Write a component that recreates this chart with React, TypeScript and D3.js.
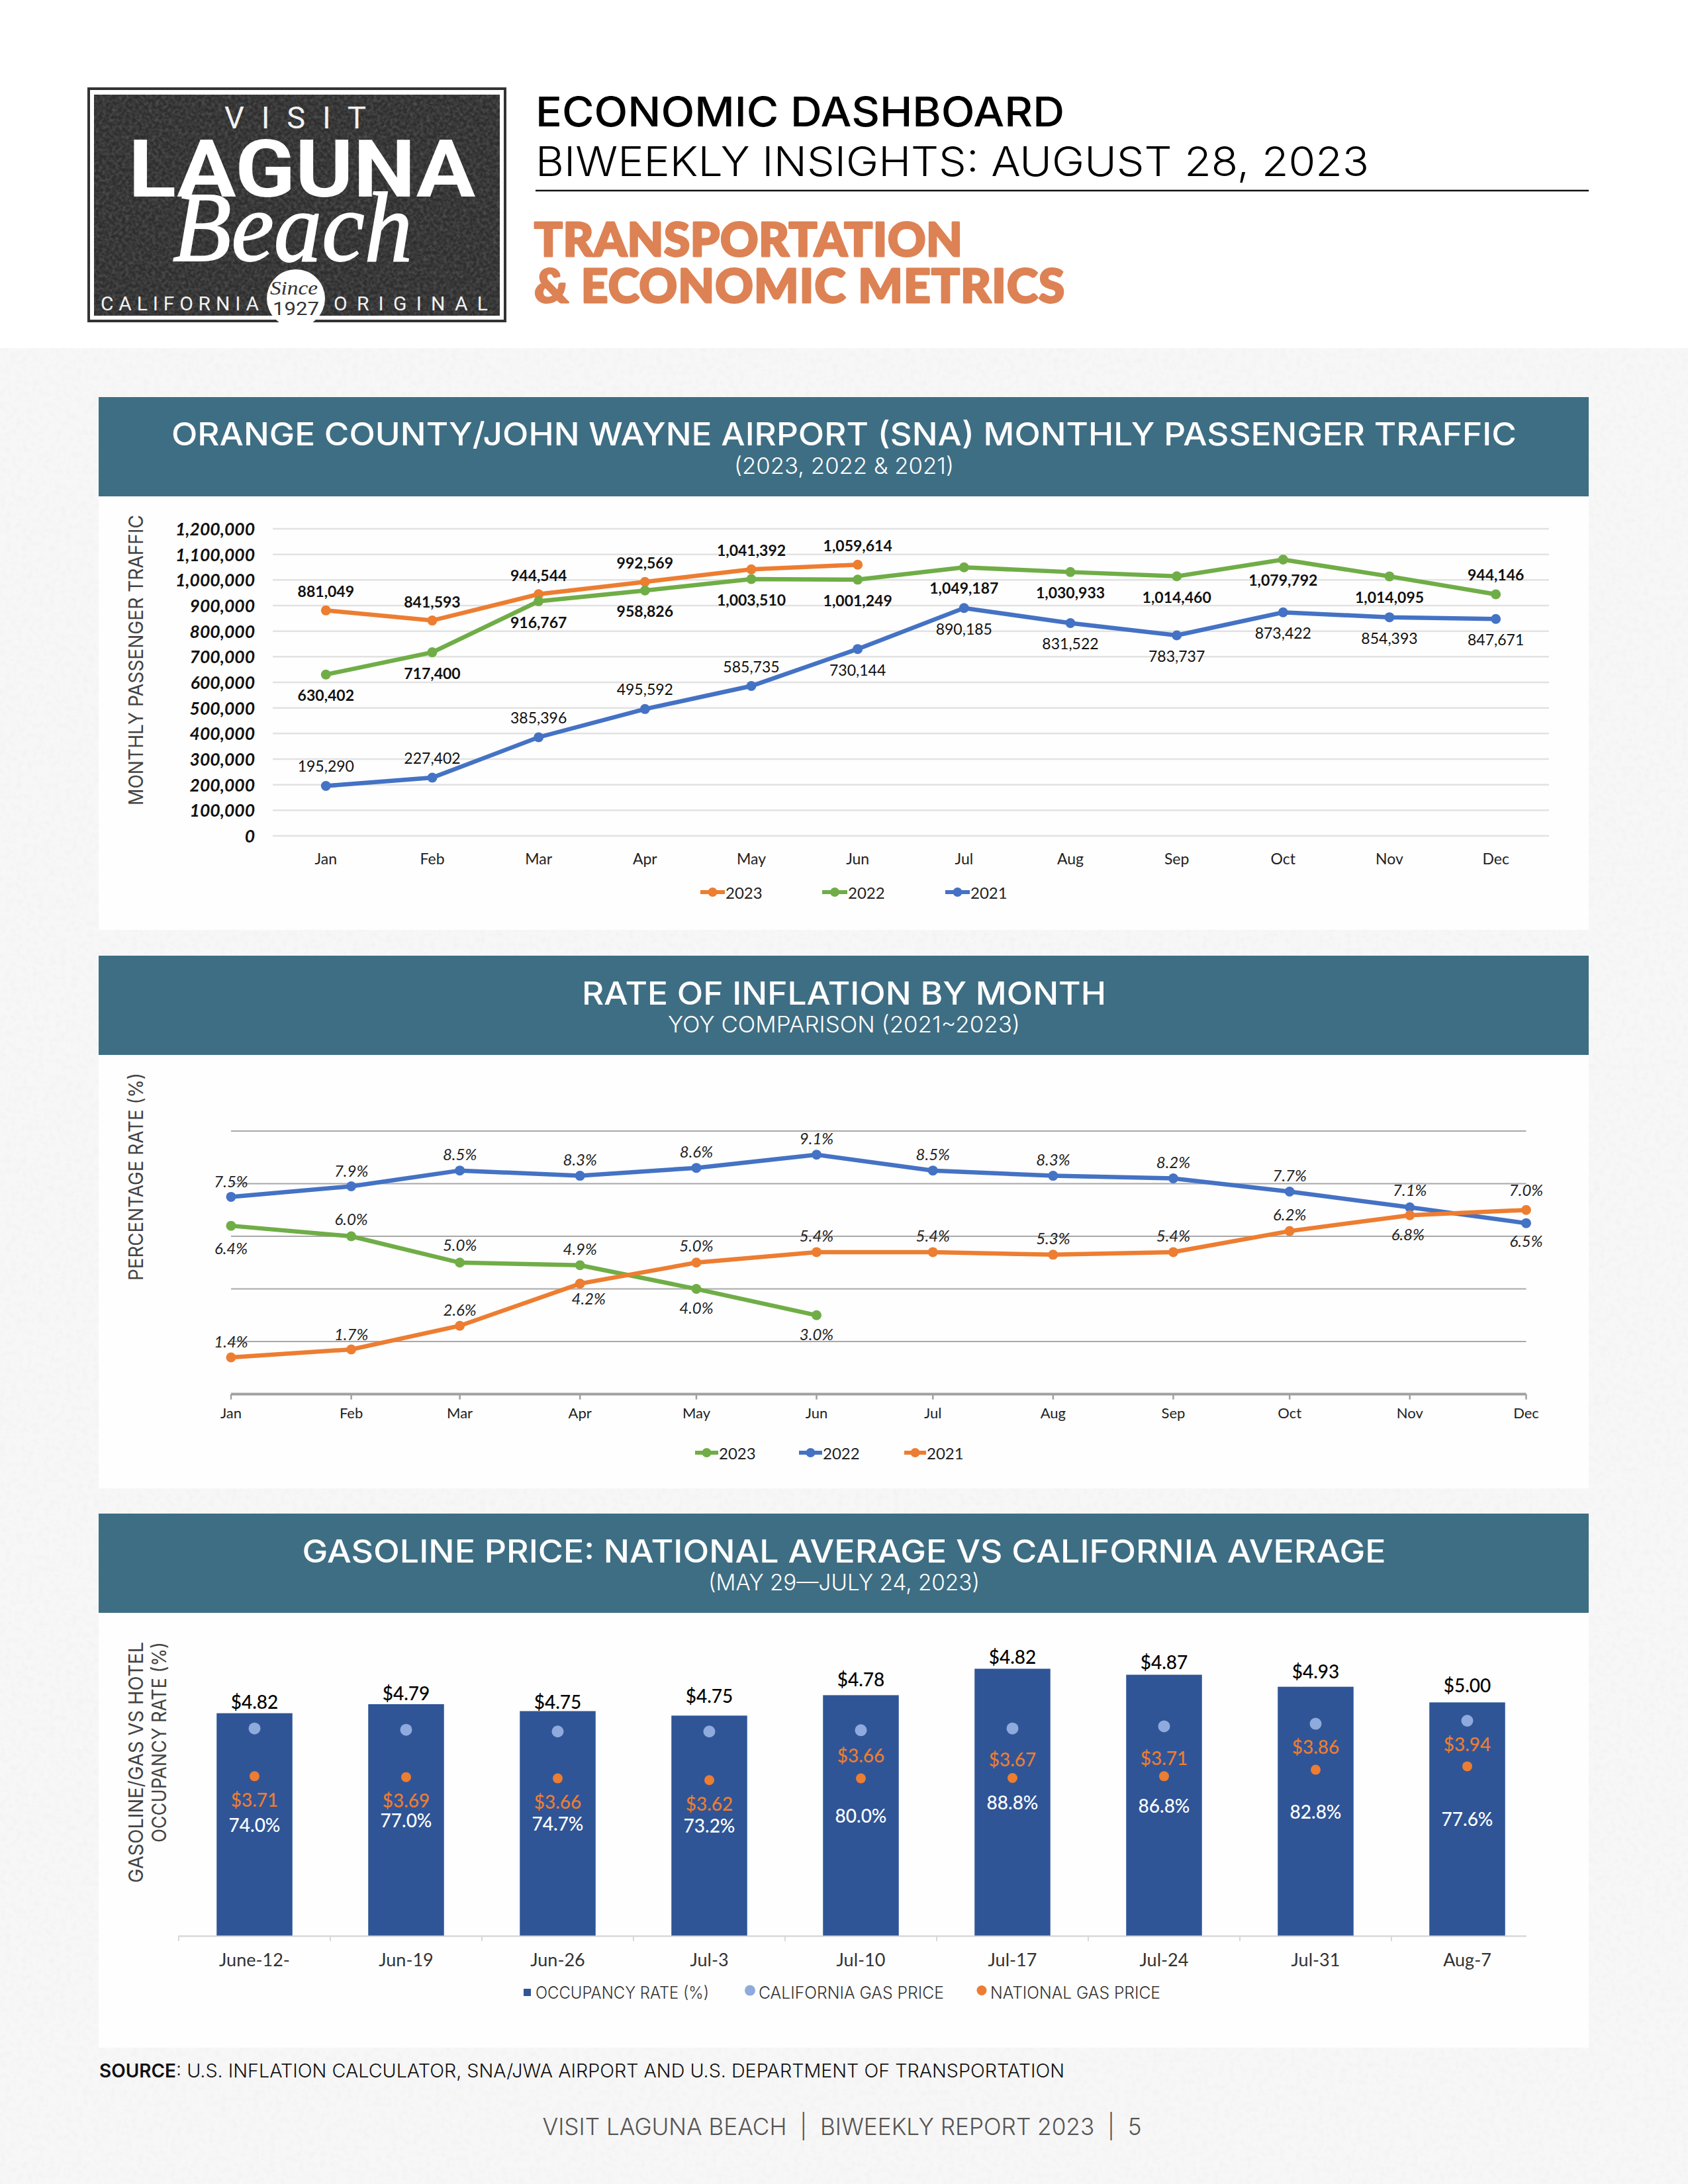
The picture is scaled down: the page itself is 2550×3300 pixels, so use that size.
import React from "react";
import * as d3 from "d3";

const months = ["Jan","Feb","Mar","Apr","May","Jun","Jul","Aug","Sep","Oct","Nov","Dec"];
const pax2023 = [881049,841593,944544,992569,1041392,1059614];
const pax2022 = [630402,717400,916767,958826,1003510,1001249,1049187,1030933,1014460,1079792,1014095,944146];
const pax2021 = [195290,227402,385396,495592,585735,730144,890185,831522,783737,873422,854393,847671];
const paxTicks = [0,100000,200000,300000,400000,500000,600000,700000,800000,900000,1000000,1100000,1200000];

const infl2023 = [6.4,6.0,5.0,4.9,4.0,3.0];
const infl2022 = [7.5,7.9,8.5,8.3,8.6,9.1,8.5,8.3,8.2,7.7,7.1,6.5];
const infl2021 = [1.4,1.7,2.6,4.2,5.0,5.4,5.4,5.3,5.4,6.2,6.8,7.0];
const inflGrid = [2,4,6,8,10];
// label offsets (layout only)
const inflOff2023 = [33,-27,-27,-25,28,28];
const inflOff2022 = [-24,-24,-25,-25,-25,-25,-25,-25,-25,-25,-27,26];
const inflOff2021 = [-24,-24,-25,22,-26,-25,-25,-25,-25,-26,28,-31];

const weeks = ["June-12-","Jun-19","Jun-26","Jul-3","Jul-10","Jul-17","Jul-24","Jul-31","Aug-7"];
const occupancy = [74.0,77.0,74.7,73.2,80.0,88.8,86.8,82.8,77.6];
const caGas = [4.82,4.79,4.75,4.75,4.78,4.82,4.87,4.93,5.00];
const usGas = [3.71,3.69,3.66,3.62,3.66,3.67,3.71,3.86,3.94];
const caOff = [-18,-17,-14,-30,-24,-18,-20,-24,-26];
const usOff = [35,35,35,35,-35,-28,-28,-35,-34];

const ORANGE="#ED7D31", GREEN="#70AD47", BLUE="#4472C4";
const HEAD="#3E6E84", UI="Inter, Lato, sans-serif", CH="Lato, sans-serif";

function T({x,y,w,sp,size,fill="#000",anchor="middle",weight=400,italic=false,font=UI,children,rot,pre}: any){
  return <text x={rot?0:x} y={rot?0:y} transform={rot?`translate(${x},${y}) rotate(${rot})`:undefined}
    fontFamily={font} fontSize={size} fontWeight={weight} fontStyle={italic?"italic":"normal"} fill={fill}
    textAnchor={anchor} dominantBaseline="central" style={pre?{whiteSpace:"pre"}:undefined}
    {...(w?{textLength:w,lengthAdjust:sp?"spacing":"spacingAndGlyphs"}:{})}>{children}</text>;
}

function Banner({top,bottom,title,tw,ty,sub,sw,sy}: any){
  return <g>
    <rect x={149} y={top+150} width={2251} height={bottom-top-150} fill="#fefefe"/>
    <rect x={149} y={top} width={2251} height={150} fill={HEAD}/>
    <T x={1275} y={ty} w={tw} size={48} fill="#fff" weight={500}>{title}</T>
    <T x={1275} y={sy} w={sw} size={34} fill="#fff" weight={300}>{sub}</T>
  </g>;
}

function Legend({items,y}: any){
  return <g>{items.map((d: any)=><g key={d.label}>
    <line x1={d.x1} x2={d.x2} y1={y} y2={y} stroke={d.color} strokeWidth={6}/>
    <circle cx={(d.x1+d.x2)/2} cy={y} r={7} fill={d.color}/>
    <T x={d.x2+1} y={y} size={24} anchor="start" fill="#222" font={CH}>{d.label}</T>
  </g>)}</g>;
}

function Traffic(){
  const x = d3.scaleBand<string>().domain(months).range([412,2340]);
  const y = d3.scaleLinear().domain([0,1200000]).range([1263,799]);
  const cx = (i:number)=>x(months[i])!+x.bandwidth()/2;
  const line = d3.line<number>().x((_,i)=>cx(i)).y(d=>y(d));
  const fmt = d3.format(",");
  const series = [
    {vals:pax2023,color:ORANGE,bold:true,side:()=>-29},
    {vals:pax2022,color:GREEN,bold:true,side:(i:number)=>i===11?-30:31},
    {vals:pax2021,color:BLUE,bold:false,side:(i:number)=>i<5?-30:31},
  ];
  return <g>
    {paxTicks.map(t=><g key={t}>
      <line x1={412} x2={2340} y1={y(t)} y2={y(t)} stroke="#e2e2e2" strokeWidth={2.5}/>
      <T x={385} y={y(t)} size={26.5} anchor="end" weight={700} italic font={CH} fill="#111">{fmt(t)}</T>
    </g>)}
    {months.map((m,i)=><T key={m} x={cx(i)} y={1297} size={23} fill="#222" font={CH}>{m}</T>)}
    {series.map((s,k)=><g key={k}>
      <path d={line(s.vals)!} fill="none" stroke={s.color} strokeWidth={6.5}/>
      {s.vals.map((v,i)=><circle key={i} cx={cx(i)} cy={y(v)} r={7.5} fill={s.color}/>)}
    </g>)}
    {series.map((s,k)=><g key={k}>
      {s.vals.map((v,i)=><T key={i} x={cx(i)} y={y(v)+s.side(i)} size={23} weight={s.bold?700:400} font={CH} fill="#111">{fmt(v)}</T>)}
    </g>)}
    <Legend y={1348} items={[{label:"2023",color:ORANGE,x1:1058,x2:1095},{label:"2022",color:GREEN,x1:1242,x2:1280},{label:"2021",color:BLUE,x1:1428,x2:1465}]}/>
    <T x={205} y={997.5} w={439} size={30} rot={-90} fill="#444">MONTHLY PASSENGER TRAFFIC</T>
  </g>;
}

function Inflation(){
  const dates = months.map((_,i)=>new Date(Date.UTC(2023,i,1)));
  const x = d3.scaleUtc().domain([dates[0],dates[11]]).range([349,2305.5]);
  const y = d3.scaleLinear().domain([0,10]).range([2106.6,1709]);
  const line = d3.line<number>().x((_,i)=>x(dates[i])).y(d=>y(d));
  const series = [
    {vals:infl2022,color:BLUE,off:inflOff2022},
    {vals:infl2023,color:GREEN,off:inflOff2023},
    {vals:infl2021,color:ORANGE,off:inflOff2021},
  ];
  const dx = (k:number,i:number)=>(k===2&&i===3?13:k===2&&i===10?-3:0);
  return <g>
    {inflGrid.map(t=><line key={t} x1={349} x2={2305.5} y1={y(t)} y2={y(t)} stroke="#a8a8a8" strokeWidth={2}/>)}
    <line x1={349} x2={2305.5} y1={y(0)} y2={y(0)} stroke="#a0a0a0" strokeWidth={4}/>
    {dates.map((d,i)=><g key={i}>
      <line x1={x(d)} x2={x(d)} y1={y(0)} y2={y(0)+8} stroke="#a0a0a0" strokeWidth={2.5}/>
      <T x={x(d)} y={2134} size={22} fill="#222" font={CH}>{months[i]}</T>
    </g>)}
    {series.map((s,k)=><g key={k}>
      <path d={line(s.vals)!} fill="none" stroke={s.color} strokeWidth={6.5}/>
      {s.vals.map((v,i)=><circle key={i} cx={x(dates[i])} cy={y(v)} r={7.5} fill={s.color}/>)}
    </g>)}
    {series.map((s,k)=><g key={k}>
      {s.vals.map((v,i)=><T key={i} x={x(dates[i])+dx(k,i)} y={y(v)+s.off[i]} size={24} weight={400} italic font={CH} fill="#222">{v.toFixed(1)+"%"}</T>)}
    </g>)}
    <Legend y={2195} items={[{label:"2023",color:GREEN,x1:1050,x2:1085},{label:"2022",color:BLUE,x1:1207,x2:1242},{label:"2021",color:ORANGE,x1:1366,x2:1399}]}/>
    <T x={205} y={1778} w={314} size={30} rot={-90} fill="#444">PERCENTAGE RATE (%)</T>
  </g>;
}

function Gas(){
  const x = d3.scaleBand<string>().domain(weeks).range([270,2331]).paddingInner(0.5).paddingOuter(0.25);
  const y = d3.scaleLinear().domain([0,100]).range([2924.6,2470.6]);
  const g = d3.scaleLinear().domain([3,5]).range([2730,2600]);
  const cx = (i:number)=>x(weeks[i])!+x.bandwidth()/2;
  const step = x.step();
  return <g>
    <line x1={270} x2={2306} y1={2925.5} y2={2925.5} stroke="#d8d8d8" strokeWidth={2.5}/>
    {d3.range(0,9).map(i=><line key={i} x1={270+i*step} x2={270+i*step} y1={2925} y2={2933} stroke="#d8d8d8" strokeWidth={2}/>)}
    {weeks.map((w,i)=><g key={w}>
      <rect x={x(w)} y={y(occupancy[i])} width={x.bandwidth()} height={y(0)-y(occupancy[i])} fill="#2F5597"/>
      <circle cx={cx(i)} cy={g(caGas[i])} r={9} fill="#8FAADC"/>
      <circle cx={cx(i)} cy={g(usGas[i])} r={7.5} fill={ORANGE}/>
      <T x={cx(i)} y={y(occupancy[i])+caOff[i]} size={28} font={CH} weight={500} fill="#000">{"$"+caGas[i].toFixed(2)}</T>
      <T x={cx(i)} y={g(usGas[i])+usOff[i]} size={28} font={CH} weight={500} fill={ORANGE}>{"$"+usGas[i].toFixed(2)}</T>
      <T x={cx(i)} y={y(occupancy[i]/2)} size={28} font={CH} weight={500} fill="#fff">{occupancy[i].toFixed(1)+"%"}</T>
      <T x={cx(i)} y={2960} size={27} font={CH} fill="#333">{w}</T>
    </g>)}
    <rect x={791} y={3005} width={11} height={11} fill="#2F5597"/>
    <T x={809} y={3011} w={262} size={25} anchor="start" fill="#333" weight={300}>OCCUPANCY RATE (%)</T>
    <circle cx={1133} cy={3007.5} r={8} fill="#8FAADC"/>
    <T x={1146} y={3011} w={280} size={25} anchor="start" fill="#333" weight={300}>CALIFORNIA GAS PRICE</T>
    <circle cx={1483} cy={3007.5} r={7.5} fill={ORANGE}/>
    <T x={1496} y={3011} w={257} size={25} anchor="start" fill="#333" weight={300}>NATIONAL GAS PRICE</T>
    <T x={205} y={2481} w={364} size={30} rot={-90} anchor="end" fill="#444">GASOLINE/GAS VS HOTEL</T>
    <T x={240} y={2481} w={303} size={30} rot={-90} anchor="end" fill="#444">OCCUPANCY RATE (%)</T>
  </g>;
}

function Logo(){
  const R = "Roboto, sans-serif";
  return <g>
    <rect x={132} y={132} width={633} height={355} fill="#333"/>
    <rect x={136} y={136} width={625} height={347} fill="#fff"/>
    <rect x={142} y={143} width={613} height={334} fill="#2e2e2e"/>
    <rect x={142} y={143} width={613} height={334} filter="url(#grain)"/>
    <T x={446} y={177} w={214} sp size={47} fill="#f2f2f2" font={R}>VISIT</T>
    <T x={456} y={256} w={524} size={120} fill="#fff" weight={700} font={R}>LAGUNA</T>
    <text x={442} y={394} fontFamily="'Liberation Serif', serif" fontStyle="italic" fontSize={150} fill="#fff" stroke="#fff" strokeWidth={2} textAnchor="middle" textLength={362} lengthAdjust="spacingAndGlyphs">Beach</text>
    <T x={271.5} y={458} w={239} sp size={30} fill="#f2f2f2" font={R}>CALIFORNIA</T>
    <T x={620.5} y={458} w={233} sp size={30} fill="#f2f2f2" font={R}>ORIGINAL</T>
    <clipPath id="seal"><rect x={395} y={400} width={110} height={87}/></clipPath>
    <circle cx={447} cy={451} r={44} fill="#fff" clipPath="url(#seal)"/>
    <T x={444} y={434} w={72} size={30} fill="#333" italic font="'Liberation Serif', serif">Since</T>
    <T x={447} y={466} w={70} size={28} fill="#333" font={R}>1927</T>
  </g>;
}

export default function App(){
  return <svg width={2550} height={3300} viewBox="0 0 2550 3300" style={{position:"absolute",left:0,top:0,display:"block"}}>
    <defs>
      <filter id="grain" x="0" y="0" width="100%" height="100%">
        <feTurbulence type="fractalNoise" baseFrequency="0.2" numOctaves="4" seed="7"/>
        <feColorMatrix type="matrix" values="0 0 0 0 1  0 0 0 0 1  0 0 0 0 1  0.3 0 0 0 -0.1"/>
      </filter>
      <filter id="paper" x="0" y="0" width="100%" height="100%">
        <feTurbulence type="fractalNoise" baseFrequency="0.12" numOctaves="3" seed="3"/>
        <feColorMatrix type="matrix" values="0 0 0 0 0.6  0 0 0 0 0.6  0 0 0 0 0.6  0.22 0 0 0 -0.09"/>
      </filter>
    </defs>
    <rect width={2550} height={3300} fill="#fff"/>
    <rect y={526} width={2550} height={2774} fill="#f7f7f7"/>
    <rect y={526} width={2550} height={2774} filter="url(#paper)"/>
    <Logo/>
    <T x={809} y={168} w={799} size={62} anchor="start" weight={500} fill="#000">ECONOMIC DASHBOARD</T>
    <T x={809} y={243} w={1259} size={62} anchor="start" weight={300} fill="#000">BIWEEKLY INSIGHTS: AUGUST 28, 2023</T>
    <line x1={809} x2={2400} y1={288} y2={288} stroke="#111" strokeWidth={2.5}/>
    <g stroke="#DD8254" strokeWidth={3} strokeLinejoin="round">
      <T x={807} y={359} w={647} sp size={71} anchor="start" weight={900} fill="#DD8254" font={CH}>TRANSPORTATION</T>
      <T x={807} y={429} w={801} sp size={71} anchor="start" weight={900} fill="#DD8254" font={CH}>&amp; ECONOMIC METRICS</T>
    </g>
    <Banner top={600} bottom={1405} title="ORANGE COUNTY/JOHN WAYNE AIRPORT (SNA) MONTHLY PASSENGER TRAFFIC" tw={2032} ty={655} sub="(2023, 2022 & 2021)" sw={332} sy={703}/>
    <Banner top={1444} bottom={2249} title="RATE OF INFLATION BY MONTH" tw={792} ty={1500} sub="YOY COMPARISON (2021~2023)" sw={532} sy={1547}/>
    <Banner top={2287} bottom={3094} title="GASOLINE PRICE: NATIONAL AVERAGE VS CALIFORNIA AVERAGE" tw={1637} ty={2343} sub="(MAY 29—JULY 24, 2023)" sw={410} sy={2390}/>
    <Traffic/>
    <Inflation/>
    <Gas/>
    <text x={150} y={3129} fontFamily={UI} fontSize={28} fill="#111" dominantBaseline="central" fontWeight={300}>
      <tspan fontWeight={600} textLength={116} lengthAdjust="spacingAndGlyphs">SOURCE</tspan>
      <tspan textLength={1342} lengthAdjust="spacingAndGlyphs">: U.S. INFLATION CALCULATOR, SNA/JWA AIRPORT AND U.S. DEPARTMENT OF TRANSPORTATION</tspan>
    </text>
    <T x={1272} y={3213} w={905} size={36} fill="#555" weight={300} pre>{"VISIT LAGUNA BEACH  |  BIWEEKLY REPORT 2023  |  5"}</T>
  </svg>;
}
